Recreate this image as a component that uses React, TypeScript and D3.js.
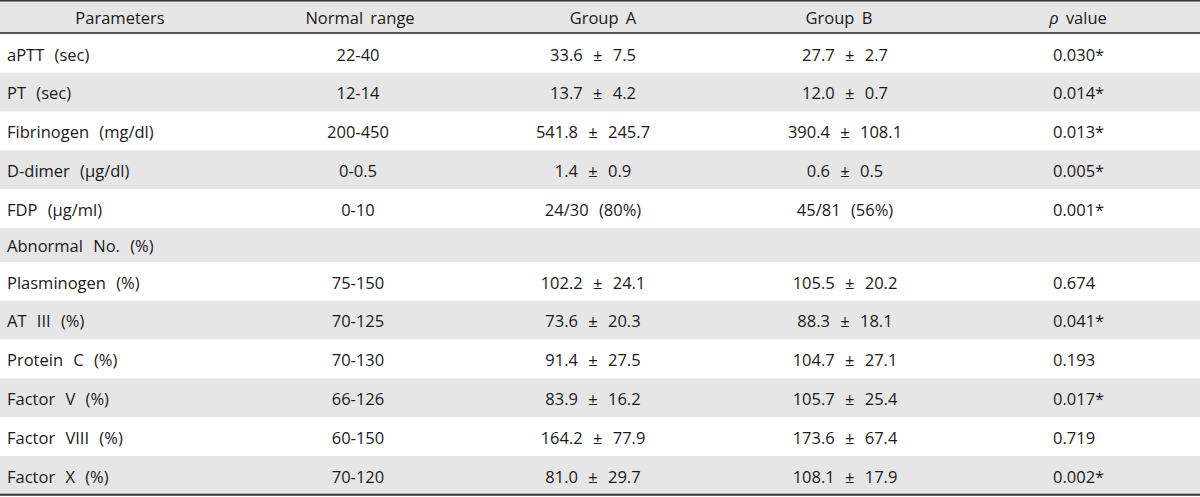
import React, { useEffect, useRef } from "react";
import * as d3 from "d3";

const headers = ["Parameters", "Normal range", "Group A", "Group B", "value"];
const parameters = [
  "aPTT (sec)", "PT (sec)", "Fibrinogen (mg/dl)", "D-dimer (μg/dl)", "FDP (μg/ml)",
  "Abnormal No. (%)", "Plasminogen (%)", "AT III (%)", "Protein C (%)", "Factor V (%)",
  "Factor VIII (%)", "Factor X (%)",
];
const normalRange = ["22-40", "12-14", "200-450", "0-0.5", "0-10", "", "75-150", "70-125", "70-130", "66-126", "60-150", "70-120"];
const groupA = ["33.6 ± 7.5", "13.7 ± 4.2", "541.8 ± 245.7", "1.4 ± 0.9", "24/30 (80%)", "", "102.2 ± 24.1", "73.6 ± 20.3", "91.4 ± 27.5", "83.9 ± 16.2", "164.2 ± 77.9", "81.0 ± 29.7"];
const groupB = ["27.7 ± 2.7", "12.0 ± 0.7", "390.4 ± 108.1", "0.6 ± 0.5", "45/81 (56%)", "", "105.5 ± 20.2", "88.3 ± 18.1", "104.7 ± 27.1", "105.7 ± 25.4", "173.6 ± 67.4", "108.1 ± 17.9"];
const pValues = ["0.030*", "0.014*", "0.013*", "0.005*", "0.001*", "", "0.674", "0.041*", "0.193", "0.017*", "0.719", "0.002*"];

const W = 1200;
const H = 497;
const HEADER_H = 33;
const ROW_H = 38.8;
const SECTION_H = 34;
const FONT = "'Open Sans', 'Noto Sans', sans-serif";

export default function App() {
  const ref = useRef<SVGSVGElement>(null);

  useEffect(() => {
    document.body.style.margin = "0";
    const svg = d3.select(ref.current);
    svg.selectAll("*").remove();

    const heights = parameters.map((_, i) => (normalRange[i] === "" ? SECTION_H : ROW_H));
    const tops: number[] = [];
    let acc = HEADER_H + 1;
    heights.forEach((h) => { tops.push(acc); acc += h; });
    const bottom = acc;

    svg.append("rect").attr("x", 0).attr("y", 0).attr("width", W).attr("height", HEADER_H + 1).attr("fill", "#e6e6e6");

    svg.selectAll("rect.row")
      .data(parameters)
      .join("rect")
      .attr("class", "row")
      .attr("x", 0)
      .attr("y", (_, i) => tops[i])
      .attr("width", W)
      .attr("height", (_, i) => heights[i])
      .attr("fill", (_, i) => (i % 2 === 1 ? "#e6e6e6" : "#ffffff"));

    svg.append("line").attr("x1", 0).attr("x2", W).attr("y1", 0.75).attr("y2", 0.75).attr("stroke", "#333").attr("stroke-width", 1.5);
    svg.append("line").attr("x1", 0).attr("x2", W).attr("y1", HEADER_H).attr("y2", HEADER_H).attr("stroke", "#555").attr("stroke-width", 2);
    svg.append("line").attr("x1", 0).attr("x2", W).attr("y1", bottom).attr("y2", bottom).attr("stroke", "#333").attr("stroke-width", 2);

    const textStyle = (sel: any) =>
      sel.attr("font-family", FONT).attr("font-size", 16.5).attr("fill", "#1a1a1a").attr("word-spacing", 6).style("word-spacing", "6px");

    const hx = [120, 360, 603, 839, 1078];
    const g = svg.append("g");
    headers.forEach((h, i) => {
      const t = g.append("text").attr("x", hx[i]).attr("y", HEADER_H / 2 + 1.5).attr("dy", "0.35em").attr("text-anchor", "middle");
      textStyle(t);
      t.style("word-spacing", "3px");
      if (i === 4) {
        t.append("tspan").attr("font-style", "italic").text("ρ");
        t.append("tspan").text(" " + h);
      } else {
        t.text(h);
      }
    });

    const cols = [
      { data: parameters, x: 7, anchor: "start" },
      { data: normalRange, x: 358, anchor: "middle" },
      { data: groupA, x: 593, anchor: "middle" },
      { data: groupB, x: 845, anchor: "middle" },
      { data: pValues, x: 1053, anchor: "start" },
    ];
    cols.forEach((c) => {
      const sel = svg.append("g").selectAll("text")
        .data(c.data)
        .join("text")
        .attr("x", c.x)
        .attr("y", (_, i) => tops[i] + heights[i] / 2 + 1.5)
        .attr("dy", "0.35em")
        .attr("text-anchor", c.anchor)
        .text((d) => d);
      textStyle(sel);
    });
  }, []);

  return (
    <svg ref={ref} width={W} height={H} style={{ position: "absolute", left: 0, top: 0, background: "#fff" }} />
  );
}
